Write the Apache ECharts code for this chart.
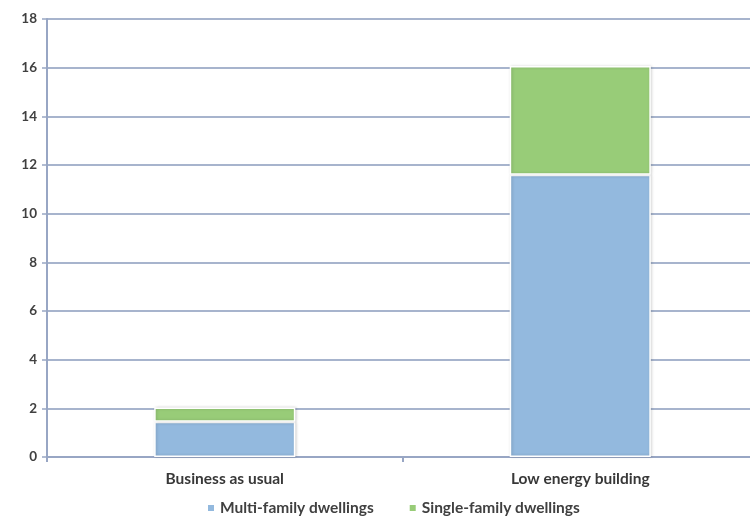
<!DOCTYPE html>
<html><head><meta charset="utf-8">
<script src="https://cdn.jsdelivr.net/npm/echarts@6/dist/echarts.min.js"></script>
<style>html,body{margin:0;padding:0;background:#fff}#c{width:750px;height:523px}</style>
</head><body><div id="c"></div>
<script>
const categories = ["Business as usual", "Low energy building"];
const multiFamily = [1.45, 11.6];
const singleFamily = [0.58, 4.47];
const yTicks = [0, 2, 4, 6, 8, 10, 12, 14, 16, 18];

const chart = echarts.init(document.getElementById('c'));
const font = 'Lato, "Open Sans", sans-serif';
const barStyle = c => ({color: c, borderColor: '#ffffff', borderWidth: 1.5, shadowColor: 'rgba(0,0,0,0.18)', shadowBlur: 3, shadowOffsetX: 1, shadowOffsetY: 0});
chart.setOption({
  animation: false,
  grid: {left: 47, width: 711, top: 19, bottom: 66, outerBoundsMode: 'none', containLabel: false},
  legend: {
    bottom: 2, left: 201, itemWidth: 8, itemHeight: 8, itemGap: 34,
    textStyle: {fontFamily: font, fontSize: 15.5, fontWeight: 'bold', color: '#404040'},
    data: [{name: 'Multi-family dwellings', icon: 'rect'}, {name: 'Single-family dwellings', icon: 'rect'}]
  },
  xAxis: {
    type: 'category', data: categories,
    axisLine: {lineStyle: {color: '#98a6c4', width: 2}},
    axisTick: {show: true, length: 5, lineStyle: {color: '#98a6c4', width: 2}},
    axisLabel: {fontFamily: font, fontSize: 15.5, fontWeight: 'bold', color: '#383838', margin: 14}
  },
  yAxis: {
    type: 'value', min: yTicks[0], max: yTicks[yTicks.length - 1], interval: 2,
    axisLine: {show: true, lineStyle: {color: '#98a6c4', width: 2}},
    axisTick: {show: true, length: 5, lineStyle: {color: '#98a6c4', width: 1.5}},
    splitLine: {lineStyle: {color: '#8a9bbd', width: 1.5}},
    axisLabel: {fontFamily: font, fontSize: 13.5, fontWeight: 'bold', color: '#404040', margin: 10}
  },
  series: [
    {name: 'Multi-family dwellings', type: 'bar', stack: 's', data: multiFamily, barWidth: '39.7%', itemStyle: barStyle('#93b9de')},
    {name: 'Single-family dwellings', type: 'bar', stack: 's', data: singleFamily, barWidth: '39.7%', itemStyle: barStyle('#98cc78')}
  ]
});
</script></body></html>
